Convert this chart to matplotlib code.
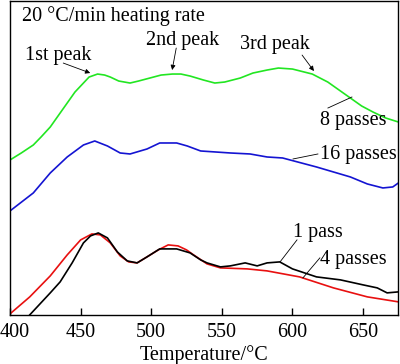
import matplotlib
matplotlib.use("Agg")
import matplotlib.pyplot as plt
from matplotlib.transforms import ScaledTranslation

# DSC curves, arbitrary heat-flow units
t_1pass = [405, 414, 428.5, 435.5, 444, 452, 457, 462.5, 469, 476, 483, 490, 497, 506, 518,
           527.5, 535, 539.5, 549, 556, 566.5, 575, 582, 591, 600, 617, 634, 650, 660, 667, 675]
v_1pass = [-15, 0, 22, 33, 52, 72, 79, 82, 77, 63, 54, 52, 58, 66, 66,
           62, 55, 52, 48, 49, 52, 49, 52, 53, 46, 38, 35, 30, 27, 22, 23]

t_4pass = [400, 414, 428.5, 440.5, 450, 458, 464, 471, 478, 484, 490, 497, 505, 512, 519,
           525, 530, 539.5, 549, 568, 582, 605, 629, 653, 675]
v_4pass = [1, 18, 39, 60, 75, 81, 80, 72, 59, 53, 52, 58, 65, 70, 69,
           65, 60, 51, 47, 46, 44, 38, 27, 18, 13]

t_8pass = [400, 408, 416.5, 422, 428.5, 434.5, 440.5, 446, 452, 456, 462, 467, 471, 477,
           485, 491, 499, 507, 515, 521, 527.5, 537, 545, 552, 563, 572, 582, 590,
           600, 614, 625, 632, 641, 649, 657, 666, 675]
v_8pass = [155, 162, 170, 178, 188, 200, 212, 223, 232, 238, 241, 240, 238, 234,
           232, 234, 237, 240, 241, 241, 239, 235, 232, 233, 237, 242, 245, 247,
           246, 241, 233, 226, 217, 209, 203, 197, 193]

t_16pass = [400, 416.5, 428.5, 440.5, 452, 460, 469, 478, 485, 497, 506, 518, 525.5,
            535, 556, 570, 582, 593, 617, 641, 653, 664, 671, 675]
v_16pass = [104, 122, 142, 158, 170, 174, 169, 162, 161, 166, 172, 172, 169,
            164, 162, 161, 158, 157, 148, 138, 131, 127, 128, 132]

xticks = [400, 450, 500, 550, 600, 650]

plt.rcParams["font.family"] = ["Liberation Serif", "DejaVu Serif"]

fig = plt.figure(figsize=(4.0, 3.64), dpi=100)
ax = fig.add_axes([0.025, 0.135, 0.971, 0.862])

lw = 1.2
ax.plot(t_8pass, v_8pass, color="#22e622", lw=lw)
ax.plot(t_16pass, v_16pass, color="#1414d2", lw=lw)
ax.plot(t_4pass, v_4pass, color="#e81010", lw=lw)
ax.plot(t_1pass, v_1pass, color="black", lw=lw)

fs = 14.5
ax.set_xlim(400, 675)
ax.set_ylim(0, 314)
ax.set_xticks(xticks)
ax.set_yticks([])
ax.tick_params(axis="x", direction="in", length=5, width=1, labelsize=fs, pad=6)
for s in ax.spines.values():
    s.set_linewidth(1.0)
ax.set_xlabel("Temperature/°C", fontsize=fs, labelpad=2)

# keep the first tick label inside the figure
first = ax.get_xticklabels()[0]
first.set_transform(first.get_transform() + ScaledTranslation(5 / 100, 0, fig.dpi_scale_trans))

ax.text(408.7, 299, "20 °C/min heating rate", fontsize=fs, va="center", ha="left")

arrow = dict(arrowstyle="-|>", color="black", lw=0.6, mutation_scale=7, shrinkA=0, shrinkB=0)
ax.annotate("", xy=(456.8, 242), xytext=(437.7, 252), arrowprops=arrow)
ax.text(410.8, 260, "1st peak", fontsize=fs, va="center", ha="left")
ax.annotate("", xy=(514.8, 245), xytext=(517.7, 267), arrowprops=arrow)
ax.text(496.4, 275, "2nd peak", fontsize=fs, va="center", ha="left")
ax.annotate("", xy=(615.2, 244), xytext=(606.8, 260), arrowprops=arrow)
ax.text(562.9, 271, "3rd peak", fontsize=fs, va="center", ha="left")

lead = dict(color="black", lw=0.6)
ax.plot([625.1, 642.1], [207, 218], **lead)
ax.text(619.4, 195, "8 passes", fontsize=fs, va="center", ha="left")
ax.plot([618, 600.4], [161, 156], **lead)
ax.text(619.4, 160, "16 passes", fontsize=fs, va="center", ha="left")
ax.plot([603.2, 591.2], [75, 53], **lead)
ax.text(600.4, 82, "1 pass", fontsize=fs, va="center", ha="left")
ax.plot([619.4, 607.4], [57, 37], **lead)
ax.text(619.4, 55, "4 passes", fontsize=fs, va="center", ha="left")

fig.savefig("out.png", dpi=100)
